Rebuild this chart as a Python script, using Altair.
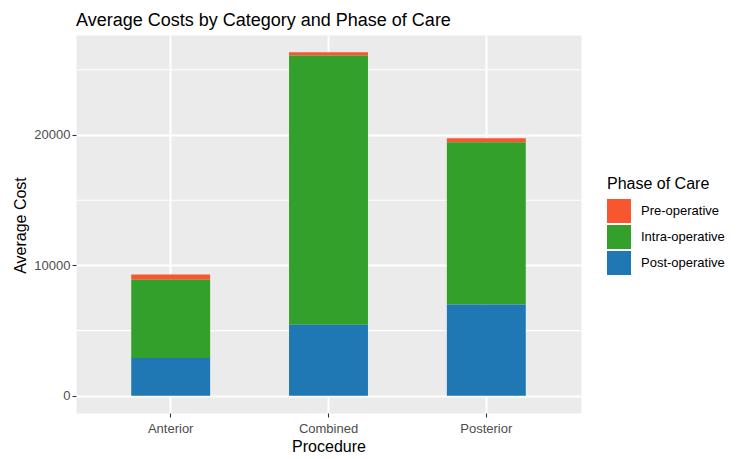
import altair as alt
import pandas as pd

# ---- data ----
procedures = ["Anterior", "Combined", "Posterior"]
phases = ["Pre-operative", "Intra-operative", "Post-operative"]
pre_op = [400, 250, 300]
intra_op = [6000, 20650, 12450]
post_op = [2900, 5450, 7000]
phase_colors = ["#F8562F", "#33A02C", "#1F77B4"]
y_ticks = [0, 10000, 20000]
minor_breaks = [5000, 15000, 25000]

stack_order = {"Post-operative": 0, "Intra-operative": 1, "Pre-operative": 2}
series = {"Pre-operative": pre_op, "Intra-operative": intra_op, "Post-operative": post_op}
rows = []
for i, p in enumerate(procedures):
    for ph in phases:
        rows.append({"Procedure": p, "Phase": ph, "Cost": series[ph][i],
                     "stack": stack_order[ph]})
df = pd.DataFrame(rows)

totals = [a + b + c for a, b, c in zip(pre_op, intra_op, post_op)]
ymax = max(totals)
ydomain = [-0.05 * ymax, 1.05 * ymax]

FONT = "Liberation Sans"

yscale = alt.Scale(domain=ydomain, nice=False, zero=False)
yaxis = alt.Axis(title="Average Cost", values=y_ticks, format="d",
                 titleX=-51, titleY=190, titleBaseline="alphabetic",
                 labelPadding=2)

minor = alt.Chart(pd.DataFrame({"v": minor_breaks})).mark_rule(
    color="white", strokeWidth=1.1
).encode(y=alt.Y("v:Q", scale=yscale, axis=yaxis))

bars = alt.Chart(df).mark_bar().encode(
    x=alt.X("Procedure:N", sort=procedures,
            scale=alt.Scale(paddingInner=0.5, paddingOuter=0.35),
            axis=alt.Axis(title="Procedure", labelAngle=0, labelPadding=5,
                          titleY=38, titleBaseline="alphabetic")),
    y=alt.Y("Cost:Q", stack="zero", scale=yscale, axis=yaxis),
    color=alt.Color("Phase:N",
                    scale=alt.Scale(domain=phases, range=phase_colors),
                    legend=alt.Legend(title="Phase of Care", orient="none",
                                      legendX=531, legendY=141)),
    order=alt.Order("stack:Q"),
)

chart = alt.layer(minor, bars).properties(
    width=505,
    height=378,
    autosize=alt.AutoSizeParams(type="none"),
    padding={"left": 68, "top": 27, "right": 155, "bottom": 42},
    title=alt.TitleParams("Average Costs by Category and Phase of Care",
                          anchor="start", frame="group", fontSize=18,
                          font=FONT, fontWeight="normal", color="#000000",
                          baseline="alphabetic", offset=10, dy=19),
).configure_view(
    fill="#EBEBEB", stroke="transparent"
).configure_axis(
    domain=False, grid=True, gridColor="#FFFFFF", gridWidth=2,
    tickColor="#333333", tickSize=4, tickWidth=1.1,
    labelColor="#4D4D4D", labelFontSize=13, labelFont=FONT,
    titleColor="#000000", titleFontSize=16, titleFont=FONT,
    titleFontWeight="normal",
).configure_legend(
    titleFont=FONT, titleFontSize=16, titleColor="#000000",
    titleFontWeight="normal", titlePadding=7,
    labelFont=FONT, labelFontSize=13, labelColor="#000000",
    symbolType="square", symbolSize=576, symbolStrokeWidth=0,
    symbolOpacity=1, labelOffset=10, rowPadding=2, padding=0,
)

chart.save("out.html", embed_options={"renderer": "svg", "actions": False})
